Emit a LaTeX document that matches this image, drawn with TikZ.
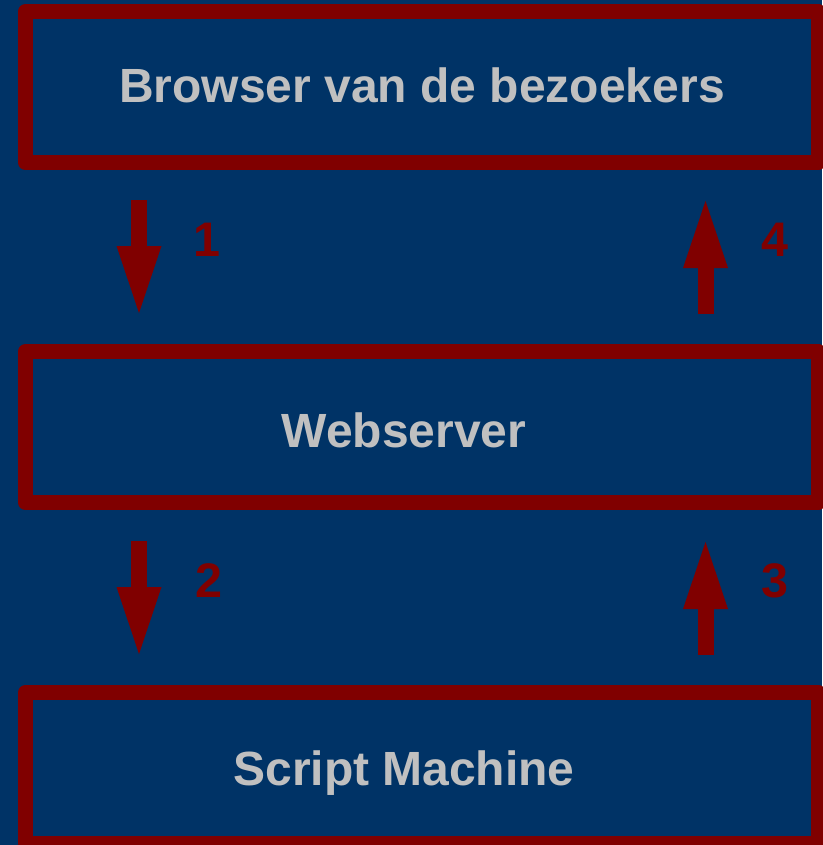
\documentclass[tikz,border=0pt]{standalone}
\usepackage{fontspec}
\setmainfont{Liberation Sans}
\usetikzlibrary{arrows.meta}
\definecolor{bg}{RGB}{0,51,102}
\definecolor{dred}{RGB}{128,0,0}
\definecolor{txt}{RGB}{192,192,192}
\begin{document}
\begin{tikzpicture}[x=1pt,y=-1pt,
  box/.style={draw=dred,line width=15pt,line join=round,minimum width=792.5pt,minimum height=151pt,inner sep=0pt,outer sep=0pt},
  lbl/.style={text=txt,font=\fontsize{48}{48}\selectfont\bfseries,inner sep=0pt,anchor=base},
  num/.style={text=dred,font=\fontsize{48.5}{48.5}\selectfont\bfseries,inner sep=0pt,anchor=base},
  flow/.style={draw=dred,line width=16pt,-{Triangle[length=67pt,width=45pt,line width=0pt]}}]
\fill[bg] (0,0) rectangle (822,845);
\useasboundingbox (0,0) rectangle (822,845);
\node[box] (b1) at (421.75,87) {};
\node[box] (b2) at (421.75,427) {};
\node[box] (b3) at (421.75,768) {};
\node[lbl] (t1) at (422,103) {Browser van de bezoekers};
\node[lbl] (t2) at (404,447) {Webserver};
\node[lbl] (t3) at (404,785) {Script Machine};
\coordinate (a1s) at (139,200);
\coordinate (a1e) at (139,313);
\coordinate (a4s) at (705.5,314);
\coordinate (a4e) at (705.5,201);
\coordinate (a2s) at (139,541);
\coordinate (a2e) at (139,654);
\coordinate (a3s) at (705.5,655);
\coordinate (a3e) at (705.5,542);
\draw[flow] (a1s) -- (a1e);
\draw[flow] (a4s) -- (a4e);
\draw[flow] (a2s) -- (a2e);
\draw[flow] (a3s) -- (a3e);
\node[num] (n1) at (207,256) {1};
\node[num] (n4) at (775,256) {4};
\node[num] (n2) at (209,597) {2};
\node[num] (n3) at (775,597) {3};
\end{tikzpicture}
\end{document}
